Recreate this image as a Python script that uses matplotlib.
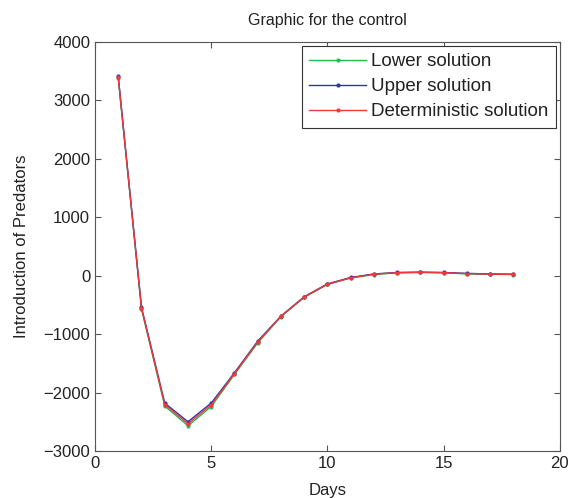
import matplotlib
matplotlib.use("Agg")
import matplotlib.pyplot as plt

plt.rcParams["font.family"] = ["Liberation Sans", "DejaVu Sans"]

days = list(range(1, 19))
lower = [3380, -570, -2230, -2570, -2240, -1690, -1150, -700, -370, -150, -40, 20, 50, 55, 50, 30, 25, 20]
upper = [3410, -540, -2180, -2500, -2180, -1660, -1120, -690, -360, -140, -30, 30, 55, 60, 55, 40, 30, 25]
determ = [3395, -555, -2205, -2535, -2210, -1675, -1135, -695, -365, -145, -35, 25, 52, 58, 52, 35, 28, 22]

series = [
    ("Lower solution", lower, "#20c050"),
    ("Upper solution", upper, "#3030b0"),
    ("Deterministic solution", determ, "#f03838"),
]

fig = plt.figure(figsize=(5.74, 4.98), dpi=100)
ax = fig.add_axes([0.1655, 0.0944, 0.810, 0.8213])

for label, vals, color in series:
    ax.plot(days, vals, color=color, lw=1.0, marker=".", ms=4, label=label)

ax.set_xlim(0, 20)
ax.set_ylim(-3000, 4000)
ax.set_xticks([0, 5, 10, 15, 20])
ax.set_yticks(range(-3000, 4001, 1000))
ax.tick_params(direction="in", top=True, right=True, labelsize=12, length=4,
               color="#555555", labelcolor="#222222")
for s in ax.spines.values():
    s.set_color("#555555")
ax.set_xlabel("Days", fontsize=12, labelpad=9, color="#222222")
ax.set_ylabel("Introduction of Predators", fontsize=12, labelpad=10, color="#222222")
ax.set_title("Graphic for the control", fontsize=11.5, pad=12, color="#222222")

leg = ax.legend(loc="upper right", fontsize=13.5, fancybox=False, framealpha=1,
                edgecolor="#333333", handlelength=3.0, borderaxespad=0.2,
                labelspacing=0.42, handletextpad=0.3, borderpad=0.4)
leg.get_frame().set_linewidth(0.8)
for t in leg.get_texts():
    t.set_color("#222222")

fig.savefig("out.png", dpi=100)
